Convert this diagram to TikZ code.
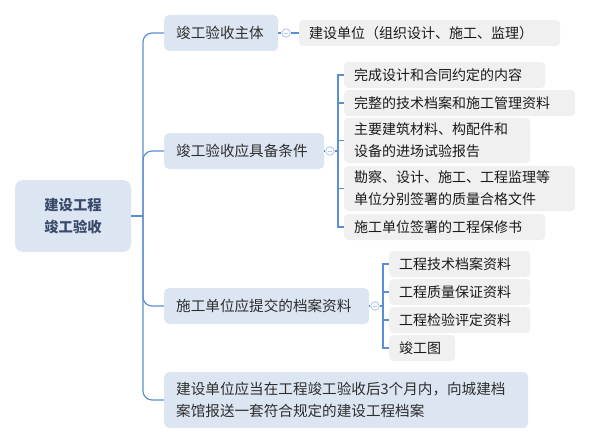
\documentclass[tikz,border=0pt]{standalone}
\usepackage{fontspec}
\setmainfont{Noto Sans CJK SC}
\begin{document}
\begin{tikzpicture}[x=1pt,y=-1pt,
  font=\fontsize{14}{22}\selectfont,
  rootbox/.style={fill=lvfill, rounded corners=8pt, minimum width=116pt, minimum height=72pt, align=center, text=roottext, font=\fontsize{14.3}{22}\selectfont\bfseries, inner sep=0pt},
  lvone/.style={fill=lvfill, rounded corners=5pt, anchor=west, minimum height=36pt, inner xsep=12pt, inner ysep=0pt, align=left, text=lvtext, font=\fontsize{14.6}{22}\selectfont},
  leaf/.style={fill=leaffill, rounded corners=4pt, anchor=west, minimum height=26pt, inner xsep=10pt, inner ysep=0pt, align=left, text=leaftext},
  conn/.style={draw=linecol, line width=1.2pt},
  collapse/.style={circle, draw=circcol, fill=white, line width=0.9pt, minimum size=8.5pt, inner sep=0pt,
    path picture={\draw[circcol, line width=0.9pt] ([xshift=-2.2pt]path picture bounding box.center) -- ([xshift=2.2pt]path picture bounding box.center);}}
]
\definecolor{lvfill}{HTML}{DCE6F2}
\definecolor{leaffill}{HTML}{F0F0F0}
\definecolor{linecol}{HTML}{5B8FD3}
\definecolor{circcol}{HTML}{B8C8EE}
\definecolor{roottext}{HTML}{3A4A6B}
\definecolor{lvtext}{HTML}{2E2E2E}
\definecolor{leaftext}{HTML}{1A1A1A}

\useasboundingbox (0,0) rectangle (591,444);

% root
\node[rootbox] (root) at (73,216) {建设工程\\竣工验收};
\coordinate (tr) at (143,216);

% level 1
\node[lvone, text width=90pt] (n1) at (164,33) {竣工验收主体};
\node[lvone, text width=136pt] (n2) at (164,151) {竣工验收应具备条件};
\node[lvone, text width=181pt] (n3) at (164,306) {施工单位应提交的档案资料};
\node[lvone, text width=340pt, minimum height=56pt] (n4) at (164,400) {建设单位应当在工程竣工验收后3个月内，向城建档\\案馆报送一套符合规定的建设工程档案};

% trunk
\draw[conn] (root.east) -- (tr);
\draw[conn, rounded corners=9pt] (tr) |- (n1.west);
\draw[conn, rounded corners=9pt] (tr) |- (n2.west);
\draw[conn, rounded corners=9pt] (tr) |- (n3.west);
\draw[conn, rounded corners=9pt] (tr) |- (n4.west);

% branch 1
\node[leaf, text width=241pt] (a1) at (299,33) {建设单位（组织设计、施工、监理）};
\node[collapse] (c1) at (286,33) {};
\draw[conn] (n1.east) -- (c1.west);
\draw[conn] (c1.east) -- (a1.west);

% branch 2
\node[leaf, text width=181pt] (b1) at (344,75) {完成设计和合同约定的内容};
\node[leaf, text width=211pt] (b2) at (344,103) {完整的技术档案和施工管理资料};
\node[leaf, text width=166pt, minimum height=45pt] (b3) at (344,140.5) {主要建筑材料、构配件和\\设备的进场试验报告};
\node[leaf, text width=211pt, minimum height=45pt] (b4) at (344,188.5) {勘察、设计、施工、工程监理等\\单位分别签署的质量合格文件};
\node[leaf, text width=181pt] (b5) at (344,227) {施工单位签署的工程保修书};
\node[collapse] (c2) at (330,151) {};
\coordinate (bus2) at (338,151);
\draw[conn] (n2.east) -- (c2.west);
\draw[conn] (c2.east) -- (bus2);
\draw[conn] (bus2) |- (b1.west);
\draw[conn] (bus2) |- (b2.west);
\draw[conn] (bus2) |- (b3.west);
\draw[conn] (bus2) |- (b4.west);
\draw[conn] (bus2) |- (b5.west);

% branch 3
\node[leaf, text width=121pt] (d1) at (389,264) {工程技术档案资料};
\node[leaf, text width=121pt] (d2) at (389,292) {工程质量保证资料};
\node[leaf, text width=121pt] (d3) at (389,320) {工程检验评定资料};
\node[leaf, text width=46pt] (d4) at (389,348) {竣工图};
\node[collapse] (c3) at (375,306) {};
\coordinate (bus3) at (383,306);
\draw[conn] (n3.east) -- (c3.west);
\draw[conn] (c3.east) -- (bus3);
\draw[conn] (bus3) |- (d1.west);
\draw[conn] (bus3) |- (d2.west);
\draw[conn] (bus3) |- (d3.west);
\draw[conn] (bus3) |- (d4.west);
\end{tikzpicture}
\end{document}
